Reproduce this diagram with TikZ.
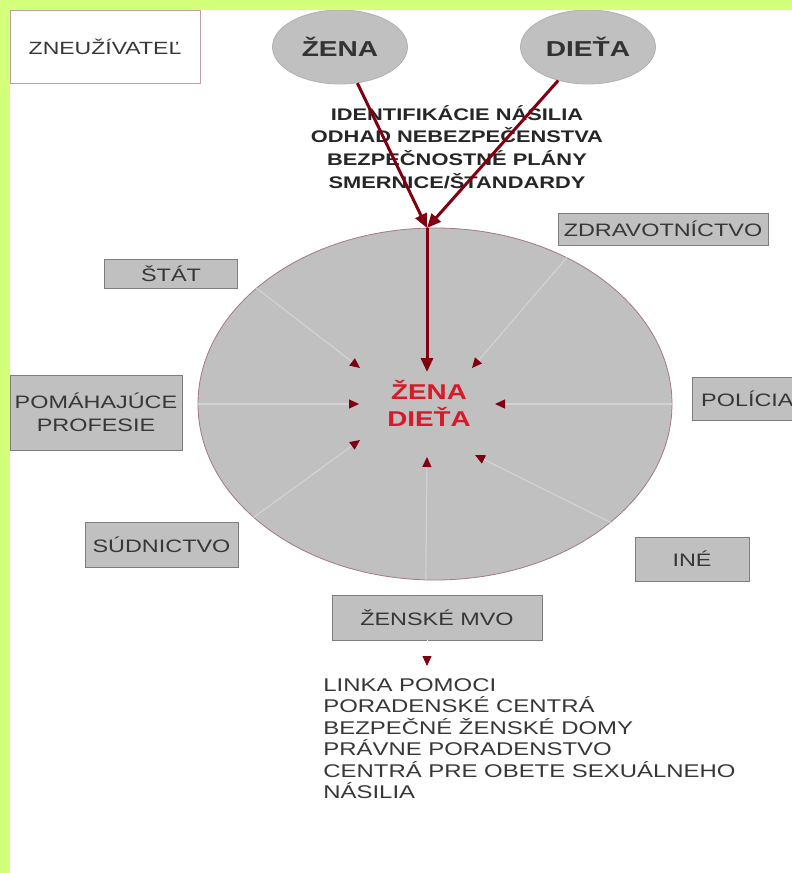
\documentclass[tikz,border=0pt]{standalone}
\usepackage{fontspec}
\setmainfont{Liberation Sans}[FakeStretch=1.3]
\usetikzlibrary{shapes.geometric,arrows.meta}

\definecolor{framegreen}{RGB}{212,255,122}
\definecolor{discgray}{RGB}{192,192,192}
\definecolor{rimred}{RGB}{165,120,130}
\definecolor{boxedge}{RGB}{125,125,125}
\definecolor{darkred}{RGB}{128,0,16}
\definecolor{textred}{RGB}{215,25,40}
\definecolor{textgray}{RGB}{55,55,55}
\definecolor{spokegray}{RGB}{210,210,210}

\begin{document}
\begin{tikzpicture}[x=0.5pt, y=-0.5pt,
    party/.style = {draw=boxedge!60, fill=discgray, ellipse, minimum width=67.5pt, minimum height=37pt, inner sep=0pt, font=\fontsize{10.8}{13}\selectfont\bfseries, text=black!80},
    sector/.style = {draw=boxedge, fill=discgray, align=center, inner sep=0pt, font=\fontsize{9}{11.5}\selectfont, text=textgray},
    mainarrow/.style = {draw=darkred, line width=1.5pt, -{Triangle[length=7pt, width=6pt]}},
    spoke/.style = {draw=spokegray, line width=0.6pt, -{Triangle[color=darkred, length=5pt, width=4.5pt]}}
]
    \clip (0,0) rectangle (792,873);
    \fill[white] (0,0) rectangle (792,873);

    % the big disc with the victims in the middle
    \node[ellipse, draw=rimred, fill=discgray, minimum width=237pt, minimum height=176pt, inner sep=0pt] (disc) at (435,404) {};
    \foreach \ang/\tx/\ty in {0/495/404, 48/472/368, 147/360/368, 180/359/404, 212/360/440, 267/427/457, 326/475/455} {
        \coordinate (tip\ang) at (\tx,\ty);
        \draw[spoke] (disc.\ang) -- (tip\ang);
    }
    \node[font=\fontsize{10.7}{13.5}\selectfont\bfseries, text=textred, align=center] (victim) at (429,403) {ŽENA\\DIEŤA};

    % top row
    \node[draw=rimred!70, fill=white, minimum width=95pt, minimum height=36.5pt, inner sep=0pt, font=\fontsize{8.85}{11}\selectfont, text=textgray] (abuser) at (105,46.5) {ZNEUŽÍVATEĽ};
    \node[party] (woman) at (340,47) {ŽENA};
    \node[party] (child) at (588,47) {DIEŤA};

    \node[align=center, font=\fontsize{8.4}{11.35}\selectfont\bfseries, text=black!85] (tasks) at (457,147) {IDENTIFIKÁCIE NÁSILIA\\ODHAD NEBEZPEČENSTVA\\BEZPEČNOSTNÉ PLÁNY\\SMERNICE/ŠTANDARDY};

    % sectors round the disc
    \node[sector, minimum width=66.5pt, minimum height=14.5pt] (state) at (171,273.5) {ŠTÁT};
    \node[sector, minimum width=105pt, minimum height=16pt] (health) at (663,229) {ZDRAVOTNÍCTVO};
    \node[sector, minimum width=86pt, minimum height=37.5pt] (helpers) at (96,412.5) {POMÁHAJÚCE\\PROFESIE};
    \node[sector, minimum width=55pt, minimum height=21.5pt, anchor=west] (police) at (692,398.5) {POLÍCIA};
    \node[sector, minimum width=76.5pt, minimum height=22.5pt] (courts) at (161.5,544.5) {SÚDNICTVO};
    \node[sector, minimum width=57pt, minimum height=22pt] (other) at (692,559) {INÉ};
    \node[sector, minimum width=105pt, minimum height=22.5pt] (ngo) at (437,617.5) {ŽENSKÉ MVO};

    \node[anchor=north west, align=left, inner sep=0pt, font=\fontsize{9.2}{10.75}\selectfont, text=textgray] (services) at (323,678) {LINKA POMOCI\\PORADENSKÉ CENTRÁ\\BEZPEČNÉ ŽENSKÉ DOMY\\PRÁVNE PORADENSTVO\\CENTRÁ PRE OBETE SEXUÁLNEHO\\NÁSILIA};
    \coordinate (listtip) at (427,666);
    \draw[draw=white, -{Triangle[color=darkred, length=5pt, width=4.5pt]}] (listtip |- ngo.south) -- (listtip);

    % arrows into the disc
    \coordinate (meet) at (427,228);
    \coordinate (hubtop) at (427,372);
    \draw[mainarrow] (woman) -- (meet);
    \draw[mainarrow] (child) -- (meet);
    \draw[mainarrow] (meet) -- (hubtop);

    % frame
    \fill[framegreen] (0,0) rectangle (792,10);
    \fill[framegreen] (0,0) rectangle (10,873);
\end{tikzpicture}
\end{document}
